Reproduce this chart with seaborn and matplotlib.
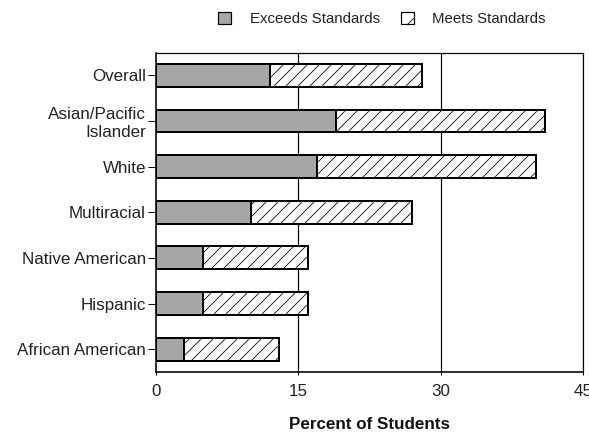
import matplotlib
matplotlib.use("Agg")
import matplotlib.pyplot as plt
import seaborn as sns
import pandas as pd
from matplotlib.patches import Patch

categories = ["Overall", "Asian/Pacific\nIslander", "White", "Multiracial",
              "Native American", "Hispanic", "African American"]
exceeds = [12, 19, 17, 10, 5, 5, 3]
meets = [16, 22, 23, 17, 11, 11, 10]
xticks = [0, 15, 30, 45]

sns.set_theme(style="white")
plt.rcParams["font.family"] = ["Liberation Sans", "DejaVu Sans"]
plt.rcParams["hatch.linewidth"] = 0.8
plt.rcParams["hatch.color"] = "black"

df = pd.DataFrame({"cat": categories, "exceeds": exceeds, "meets": meets})
df["total"] = df["exceeds"] + df["meets"]

fig = plt.figure(figsize=(589 / 72, 435 / 72), dpi=72)
ax = fig.add_axes([156 / 589, 1 - 372 / 435, (583 - 156) / 589, (372 - 52.5) / 435])

sns.barplot(data=df, x="total", y="cat", orient="h", color="white", saturation=1,
            edgecolor="black", linewidth=2.0, hatch="//", width=0.5, ax=ax, zorder=3)
sns.barplot(data=df, x="exceeds", y="cat", orient="h", color="#a6a6a6", saturation=1,
            edgecolor="black", linewidth=2.0, width=0.5, ax=ax, zorder=4)

ax.set_xlim(0, 45)
ax.set_ylim(6.5, -0.5)
ax.set_xticks(xticks)
ax.set_xticklabels([str(v) for v in xticks], fontsize=17, color="#222222")
ax.tick_params(axis="y", length=8, width=1, color="black", pad=2, labelsize=17,
               left=True, labelcolor="#222222")
ax.tick_params(axis="x", length=3, width=1, color="black", pad=9, bottom=True)
for lab in ax.get_yticklabels():
    lab.set_multialignment("right")
for v in xticks[1:]:
    ax.axvline(v, color="black", lw=1.2, zorder=1)
for s in ax.spines.values():
    s.set_color("black")
    s.set_linewidth(1.2)
ax.spines["bottom"].set_linewidth(1.6)
ax.spines["left"].set_linewidth(1.6)
ax.set_ylabel("")
ax.set_xlabel("Percent of Students", fontsize=17, fontweight="bold", labelpad=18,
              color="#111111")

handles = [Patch(facecolor="#a6a6a6", edgecolor="black", linewidth=1.2),
           Patch(facecolor="white", edgecolor="black", hatch="/", linewidth=1.2)]
fig.legend(handles, ["Exceeds Standards", "Meets Standards"], ncol=2, frameon=False,
           loc="center", bbox_to_anchor=(382 / 589, 1 - 19 / 435), fontsize=15,
           handlelength=0.85, handleheight=0.85, handletextpad=1.25, columnspacing=1.4,
           labelcolor="#222222")

fig.savefig("out.png", dpi=72)
